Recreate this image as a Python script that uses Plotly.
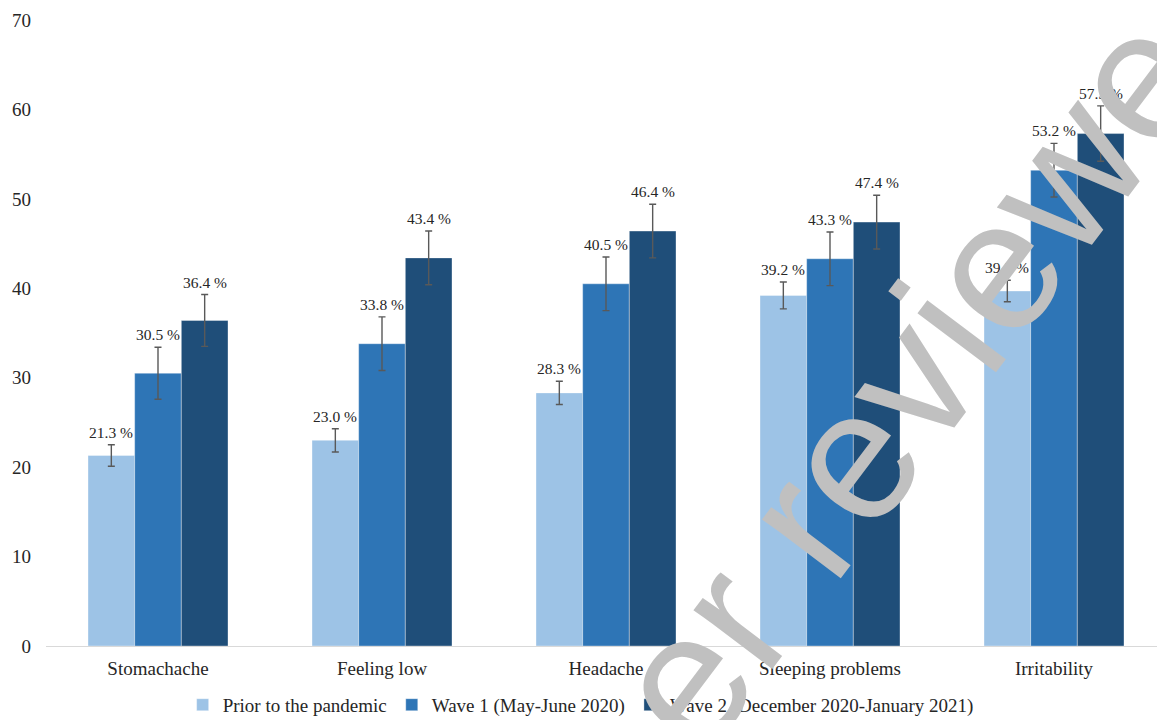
import plotly.graph_objects as go

# Symptom categories and prevalence (%) per survey period
categories = ["Stomachache", "Feeling low", "Headache", "Sleeping problems", "Irritability"]
series_names = [
    "Prior to the pandemic",
    "Wave 1 (May-June 2020)",
    "Wave 2 (December 2020-January 2021)",
]
prior = [21.3, 23.0, 28.3, 39.2, 39.7]
wave1 = [30.5, 33.8, 40.5, 43.3, 53.2]
wave2 = [36.4, 43.4, 46.4, 47.4, 57.3]

# Half-widths of the confidence intervals
prior_err = [1.2, 1.3, 1.3, 1.5, 1.2]
wave1_err = [2.9, 3.0, 3.0, 3.0, 3.0]
wave2_err = [2.9, 3.0, 3.0, 3.0, 3.1]

y_ticks = [0, 10, 20, 30, 40, 50, 60, 70]

colors = ["#9DC3E6", "#2E75B6", "#1F4E79"]
serif = "Liberation Serif, Times New Roman, serif"
text_col = "#262626"

values = [prior, wave1, wave2]
errors = [prior_err, wave1_err, wave2_err]

BARGAP = 0.375
n_series = len(values)
bar_w = (1 - BARGAP) / n_series

fig = go.Figure()
for name, vals, errs, col in zip(series_names, values, errors, colors):
    fig.add_trace(go.Bar(
        name=name,
        x=list(range(len(categories))),
        y=vals,
        marker=dict(color=col, line=dict(color="rgba(255,255,255,0.35)", width=1)),
        error_y=dict(type="data", array=errs, visible=True,
                     color="#595959", thickness=1.4, width=3.5),
    ))

# Value labels sit just above each error bar
annotations = []
for j, (vals, errs) in enumerate(zip(values, errors)):
    off = (j - (n_series - 1) / 2) * bar_w
    for i, (v, e) in enumerate(zip(vals, errs)):
        annotations.append(dict(
            x=i + off, y=v + e, xref="x", yref="y",
            text=f"{v:.1f} %", showarrow=False,
            xanchor="center", yanchor="bottom", yshift=2,
            font=dict(family=serif, size=15.5, color=text_col),
        ))

# Diagonal review watermark across the chart
annotations.append(dict(
    x=0.7426, y=0.345, xref="paper", yref="paper",
    text="Peer reviewed", showarrow=False, textangle=-53,
    xanchor="center", yanchor="middle",
    font=dict(family="Liberation Sans, Arial, sans-serif", size=186, color="#C0C0C0"),
))

fig.update_layout(
    width=1157, height=720,
    margin=dict(l=46, r=0, t=20, b=74, autoexpand=False),
    paper_bgcolor="white", plot_bgcolor="white",
    barmode="group", bargap=BARGAP, bargroupgap=0,
    font=dict(family=serif, size=18, color=text_col),
    showlegend=True,
    legend=dict(orientation="h", x=0.123, xanchor="left", y=-0.094, yanchor="middle",
                font=dict(family=serif, size=19, color=text_col),
                itemwidth=30, traceorder="normal"),
    annotations=annotations,
    xaxis=dict(
        tickmode="array", tickvals=list(range(len(categories))), ticktext=categories,
        range=[-0.5, -0.5 + 1111 / 224],
        showline=True, linecolor="#D9D9D9", linewidth=1,
        showgrid=False, zeroline=False, ticks="",
        tickfont=dict(family=serif, size=19, color=text_col),
        ticklabelstandoff=5,
    ),
    yaxis=dict(
        range=[0, 70], tickmode="array", tickvals=y_ticks,
        showgrid=False, zeroline=False, showline=False, ticks="",
        tickfont=dict(family=serif, size=19, color=text_col),
        ticklabelstandoff=14,
    ),
)

fig.write_html("out.html")
